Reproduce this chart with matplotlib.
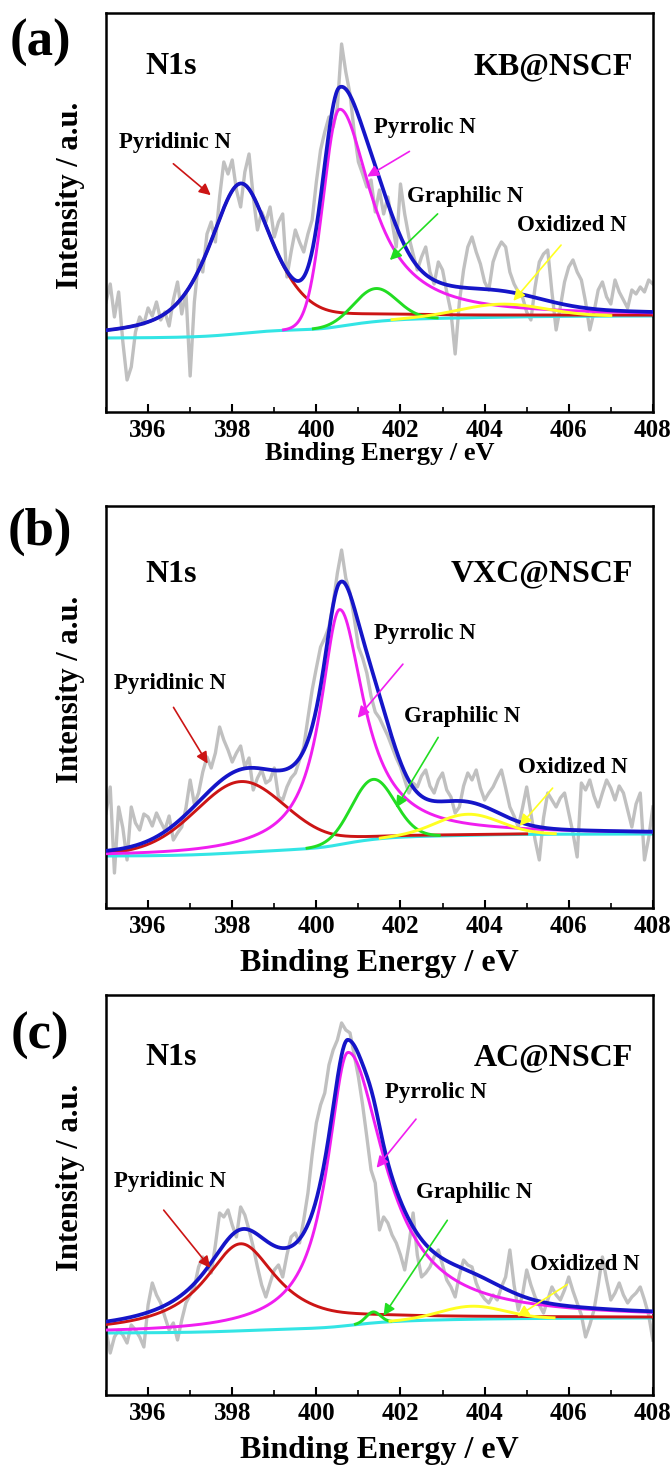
import numpy as np
import matplotlib.pyplot as plt

plt.rcParams['font.family'] = ['Liberation Serif', 'DejaVu Serif']
plt.rcParams['font.weight'] = 'bold'
plt.rcParams['axes.labelweight'] = 'bold'

# binding energy grid of the measured N1s spectra
be = np.round(np.linspace(395, 408, 131), 1)

raw_kb = [110, 128, 95, 120, 70, 32, 45, 80, 95, 88,
          104, 96, 110, 92, 100, 86, 112, 130, 98, 120,
          36, 110, 152, 140, 178, 190, 170, 215, 250, 238,
          252, 222, 205, 240, 258, 215, 182, 200, 190, 205,
          175, 190, 198, 135, 160, 182, 170, 160, 178, 192,
          230, 262, 280, 295, 285, 305, 368, 340, 318, 280,
          250, 238, 225, 232, 200, 222, 198, 215, 190, 165,
          228, 198, 175, 158, 142, 155, 165, 140, 128, 150,
          142, 120, 100, 58, 110, 142, 165, 175, 160, 148,
          130, 122, 150, 162, 170, 165, 140, 128, 120, 115,
          100, 92, 125, 150, 158, 162, 120, 82, 105, 130,
          145, 152, 140, 132, 110, 82, 100, 122, 130, 115,
          108, 132, 120, 112, 104, 122, 118, 125, 120, 132,
          128]

raw_vxc = [95, 121, 35, 101, 80, 48, 101, 85, 78, 94,
           91, 82, 95, 86, 78, 92, 68, 75, 81, 100,
           128, 104, 115, 136, 151, 140, 155, 181, 168, 158,
           146, 155, 162, 141, 150, 118, 130, 138, 125, 128,
           140, 111, 108, 121, 130, 135, 148, 161, 190, 218,
           240, 261, 270, 281, 305, 335, 358, 330, 315, 290,
           261, 250, 235, 212, 196, 190, 181, 172, 161, 150,
           141, 128, 115, 125, 121, 132, 138, 122, 115, 128,
           135, 118, 111, 95, 101, 122, 135, 128, 138, 120,
           108, 115, 121, 130, 138, 120, 101, 92, 81, 100,
           121, 95, 68, 48, 90, 115, 108, 101, 110, 115,
           95, 75, 51, 125, 118, 128, 112, 101, 115, 128,
           120, 108, 122, 115, 98, 81, 104, 115, 48, 70,
           101]

raw_ac = [65, 42, 58, 65, 60, 52, 70, 65, 58, 48,
          90, 112, 100, 92, 78, 65, 72, 55, 75, 92,
          100, 108, 128, 138, 130, 122, 150, 182, 178, 185,
          170, 158, 188, 180, 165, 148, 128, 110, 98, 112,
          125, 130, 118, 140, 158, 162, 152, 175, 202, 240,
          272, 290, 302, 330, 345, 355, 372, 365, 362, 340,
          318, 290, 258, 225, 212, 165, 178, 172, 160, 152,
          140, 125, 150, 182, 140, 118, 122, 128, 138, 145,
          130, 115, 108, 98, 120, 135, 130, 128, 112, 102,
          96, 92, 100, 95, 108, 118, 145, 110, 85, 100,
          125, 110, 98, 90, 82, 95, 108, 100, 95, 105,
          118, 104, 92, 80, 58, 70, 85, 110, 138, 115,
          95, 102, 112, 100, 92, 98, 102, 108, 95, 80,
          55]

# fitted components: pyridinic, pyrrolic, graphitic, oxidized
comp_names = ['Pyridinic N', 'Pyrrolic N', 'Graphilic N', 'Oxidized N']
comp_colors = ['#cc1515', '#f01ef0', '#22dd22', '#ffff22']

center_kb = [398.2, 400.55, 401.4, 404.4]
height_kb = [150, 217, 33, 13]
wl_kb = [0.9, 0.45, 0.6, 1.2]
wr_kb = [0.9, 0.9, 0.6, 1.2]
etal_kb = [0.7, 0.0, 0.0, 0.0]
etar_kb = [0.7, 1.0, 0.0, 0.0]

center_vxc = [398.2, 400.55, 401.35, 403.6]
height_vxc = [71, 235, 60, 21]
wl_vxc = [1.3, 0.55, 0.6, 0.9]
wr_vxc = [1.3, 0.7, 0.6, 0.9]
etal_vxc = [0.2, 1.0, 0.0, 0.0]
etar_vxc = [0.2, 1.0, 0.0, 0.0]

center_ac = [398.2, 400.75, 401.35, 403.7]
height_ac = [87, 273, 11, 13]
wl_ac = [1.05, 0.6, 0.2, 0.9]
wr_ac = [1.05, 1.05, 0.2, 0.9]
etal_ac = [1.0, 1.0, 0.0, 0.0]
etar_ac = [1.0, 1.0, 0.0, 0.0]

# Shirley background end levels (low BE, high BE)
bg_kb = [74, 96]
bg_vxc = [52, 74]
bg_ac = [62, 77]


def pvoigt(x, c, h, wl, wr, etal, etar):
    left = x < c
    w = np.where(left, wl, wr)
    eta = np.where(left, etal, etar)
    u = (x - c) / w
    return h * (eta / (1 + u ** 2) + (1 - eta) * np.exp(-np.log(2) * u ** 2))


panels = [
    dict(tag='(a)', name='KB@NSCF', raw=raw_kb, c=center_kb, h=height_kb, wl=wl_kb, wr=wr_kb,
         el=etal_kb, er=etar_kb, bg=bg_kb, rect=[0.158, 0.7205, 0.815, 0.2707], ytop=399,
         xfs=19, xpad=0, ty=0.865, tagy=0.971,
         txt=[(396.64, 269), (402.58, 284), (403.53, 215), (406.07, 186)],
         tail=[(396.55, 250), (402.27, 262), (402.93, 200), (405.86, 169)],
         head=[(397.54, 215), (401.15, 234), (401.7, 150), (404.64, 109)]),
    dict(tag='(b)', name='VXC@NSCF', raw=raw_vxc, c=center_vxc, h=height_vxc, wl=wl_vxc, wr=wr_vxc,
         el=etal_vxc, er=etar_vxc, bg=bg_vxc, rect=[0.158, 0.384, 0.815, 0.2727], ytop=402,
         xfs=23, xpad=8, ty=0.83, tagy=0.639,
         txt=[(396.52, 225), (402.58, 275), (403.46, 192), (406.09, 140)],
         tail=[(396.57, 203), (402.1, 246), (402.93, 173), (405.66, 122)],
         head=[(397.45, 142), (400.94, 188), (401.86, 98), (404.79, 80)]),
    dict(tag='(c)', name='AC@NSCF', raw=raw_ac, c=center_ac, h=height_ac, wl=wl_ac, wr=wr_ac,
         el=etal_ac, er=etar_ac, bg=bg_ac, rect=[0.158, 0.0536, 0.815, 0.2714], ytop=400,
         xfs=23, xpad=8, ty=0.8425, tagy=0.297,
         txt=[(396.52, 213), (402.84, 302), (403.76, 202), (406.38, 130)],
         tail=[(396.33, 187), (402.41, 278), (403.15, 177), (406.02, 112)],
         head=[(397.52, 125), (401.39, 225), (401.56, 77), (404.72, 77)]),
]

x = np.linspace(395, 408, 1301)

fig = plt.figure(figsize=(6.71, 14.74), dpi=100)

for p in panels:
    ax = fig.add_axes(p['rect'])
    ax.plot(be, p['raw'], color='#c0c0c0', lw=2.4, zorder=1)

    peaks = [pvoigt(x, p['c'][i], p['h'][i], p['wl'][i], p['wr'][i], p['el'][i], p['er'][i])
             for i in range(4)]
    total = np.sum(peaks, axis=0)
    cum = np.cumsum(total)
    bg = p['bg'][0] + (p['bg'][1] - p['bg'][0]) * cum / cum[-1]

    ax.plot(x, bg, color='#33e5e5', lw=2.2, zorder=2)
    for pk, col in zip(peaks, comp_colors):
        ax.plot(x, np.where(pk > 0.5, bg + pk, np.nan), color=col, lw=2.1, zorder=3)
    ax.plot(x, bg + total, color='#1515c8', lw=2.7, zorder=4)

    for name, col, t, a, hd in zip(comp_names, comp_colors, p['txt'], p['tail'], p['head']):
        ax.text(t[0], t[1], name, fontsize=16.5, ha='center', va='center', zorder=6)
        ax.annotate('', xy=hd, xytext=a,
                    arrowprops=dict(arrowstyle='-|>', color=col, lw=1.2, mutation_scale=17),
                    zorder=5)

    ax.text(0.119, p['ty'], 'N1s', transform=ax.transAxes, fontsize=23, ha='center', va='center')
    ax.text(0.963, p['ty'], p['name'], transform=ax.transAxes, fontsize=23, ha='right', va='center')

    ax.set_xlim(395, 408)
    ax.set_ylim(0, p['ytop'])
    ax.set_xticks([396, 398, 400, 402, 404, 406, 408])
    ax.set_xticks(np.arange(395, 409, 1), minor=True)
    ax.set_yticks([])
    ax.tick_params(axis='x', which='major', direction='in', length=6, width=1.5, labelsize=18, pad=5)
    ax.tick_params(axis='x', which='minor', direction='in', length=3.5, width=1.2)
    for lab in ax.get_xticklabels():
        lab.set_fontweight('bold')
    for s in ax.spines.values():
        s.set_linewidth(1.8)

    ax.set_ylabel('Intensity / a.u.', fontsize=22)
    ax.yaxis.set_label_coords(-0.038, 0.543)
    ax.set_xlabel('Binding Energy / eV', fontsize=p['xfs'], labelpad=p['xpad'])

    fig.text(0.06, p['tagy'], p['tag'], fontsize=38, ha='center', va='center')

fig.savefig('out.png', dpi=100)
